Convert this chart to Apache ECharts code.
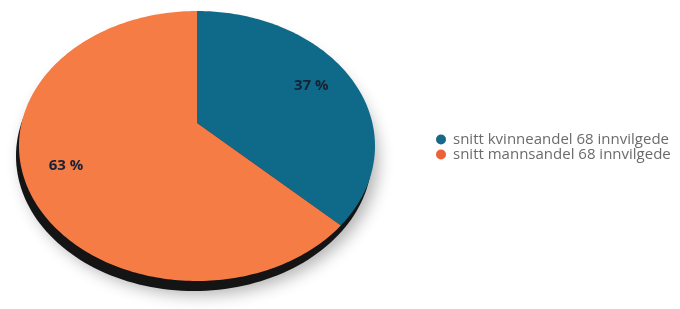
<!DOCTYPE html>
<html>
<head>
<meta charset="utf-8">
<script src="https://cdn.jsdelivr.net/npm/echarts@6/dist/echarts.min.js"></script>
<style>
  html, body { margin: 0; padding: 0; background: #fff; }
  #chart { width: 680px; height: 309px; }
</style>
</head>
<body>
<div id="chart"></div>
<script>
    var categories = ['snitt kvinneandel 68 innvilgede', 'snitt mannsandel 68 innvilgede'];
    var shares = [37, 63];
    var labels = ['37 %', '63 %'];
    var sliceColors = ['#0E6A88', '#F67C45'];
    var legendColors = ['#17698A', '#EC6236'];

    // tilted disc: ellipse rim, apex shifted up for the perspective look
    var disc = { cx: 197, cy: 146, rx: 178, ry: 135, ax: 197, ay: 123 };

    // cast a ray from the apex toward angle t and find where it meets the rim
    function rimPoint(t) {
        var dx = disc.rx * Math.sin(t), dy = -disc.ry * Math.cos(t);
        var ux = (disc.ax - disc.cx) / disc.rx, uy = (disc.ay - disc.cy) / disc.ry;
        var vx = dx / disc.rx, vy = dy / disc.ry;
        var A = vx * vx + vy * vy, B = 2 * (ux * vx + uy * vy), C = ux * ux + uy * uy - 1;
        var s = (-B + Math.sqrt(B * B - 4 * A * C)) / (2 * A);
        return [disc.ax + dx * s, disc.ay + dy * s];
    }

    function sliceAngles(index) {
        var total = 0, before = 0;
        shares.forEach(function (v, i) {
            total += v;
            if (i < index) before += v;
        });
        return [before / total * Math.PI * 2, (before + shares[index]) / total * Math.PI * 2];
    }

    function renderSlice(index) {
        return function (params, api) {
            var a = sliceAngles(index);
            var pts = [[disc.ax, disc.ay]];
            var steps = Math.ceil((a[1] - a[0]) / (Math.PI / 180));
            for (var s = 0; s <= steps; s++) {
                pts.push(rimPoint(a[0] + (a[1] - a[0]) * s / steps));
            }
            var mid = rimPoint((a[0] + a[1]) / 2);
            var f = 0.76;
            return {
                type: 'group',
                children: [
                    {
                        type: 'polygon',
                        shape: { points: pts },
                        style: { fill: sliceColors[index] }
                    },
                    {
                        type: 'text',
                        x: disc.ax + (mid[0] - disc.ax) * f,
                        y: disc.ay + (mid[1] - disc.ay) * f,
                        style: {
                            text: labels[index],
                            fill: '#172236',
                            font: 'bold 15px "Open Sans"',
                            align: 'center',
                            verticalAlign: 'middle'
                        }
                    }
                ]
            };
        };
    }

    function renderBase() {
        var pts = [];
        for (var d = 0; d < 360; d += 2) {
            var t = d * Math.PI / 180;
            pts.push([disc.cx + disc.rx * Math.sin(t) - 3, disc.cy - disc.ry * Math.cos(t) + 10]);
        }
        return {
            type: 'polygon',
            shape: { points: pts },
            style: {
                fill: '#141414',
                shadowBlur: 16,
                shadowColor: 'rgba(0,0,0,0.3)',
                shadowOffsetX: 6,
                shadowOffsetY: 4
            }
        };
    }

    var chart = echarts.init(document.getElementById('chart'));
    var series = [{
        name: 'base',
        type: 'custom',
        coordinateSystem: 'none',
        silent: true,
        data: [0],
        renderItem: renderBase
    }];
    categories.forEach(function (name, i) {
        series.push({
            name: name,
            type: 'custom',
            coordinateSystem: 'none',
            silent: true,
            itemStyle: { color: legendColors[i] },
            data: [shares[i]],
            renderItem: renderSlice(i)
        });
    });

    chart.setOption({
        animation: false,
        legend: {
            data: categories,
            orient: 'vertical',
            left: 431,
            top: 127,
            itemGap: 0,
            icon: 'circle',
            itemWidth: 10,
            itemHeight: 10,
            textStyle: {
                color: '#6b6b6b',
                fontSize: 15,
                fontFamily: 'Open Sans',
                padding: [0, 0, 0, 2]
            }
        },
        series: series
    });
</script>
</body>
</html>
